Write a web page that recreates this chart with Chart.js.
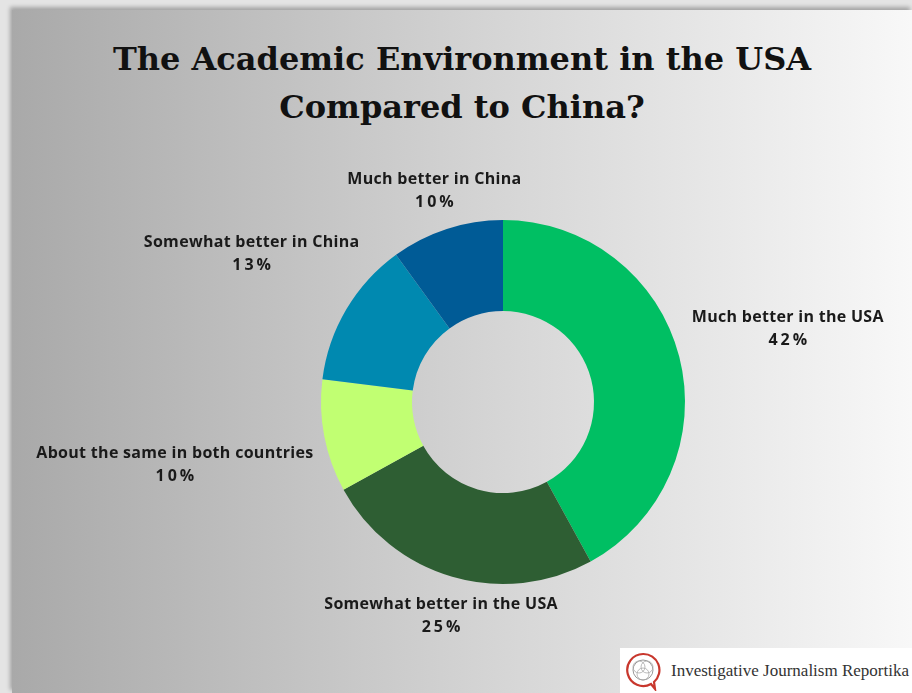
<!DOCTYPE html>
<html>
<head>
<meta charset="utf-8">
<script src="https://cdn.jsdelivr.net/npm/chart.js@4.4.1/dist/chart.umd.min.js"></script>
<style>
  html, body { margin: 0; padding: 0; }
  body {
    width: 912px; height: 693px; overflow: hidden;
    background: #e4e4e4; position: relative;
  }
  #panel {
    position: absolute; left: 12px; top: 10px; width: 900px; height: 683px;
    background: linear-gradient(to right, #a9a9a9 0%, #d6d6d6 55%, #f8f8f8 100%);
    box-shadow: -2px -3px 4px rgba(0, 0, 0, 0.28);
  }
  #title {
    position: absolute; left: 0; top: 25px; width: 900px; margin: 0;
    text-align: center; font-family: "DejaVu Serif", serif; font-weight: bold;
    font-size: 32px; line-height: 48px; color: #111;
  }
  #chartBox { position: absolute; left: 0; top: 0; width: 900px; height: 683px; }
  #brand {
    position: absolute; left: 608px; top: 638px; width: 292px; height: 45px;
    background: #fff; display: flex; align-items: center;
  }
  #brand svg { margin-left: 4px; }
  #brand span {
    margin-left: 9px; font-family: "Liberation Serif", serif; font-size: 17px;
    color: #333; white-space: nowrap;
  }
</style>
</head>
<body>
<div id="panel">
  <h1 id="title">The Academic Environment in the USA<br>Compared to China?</h1>
  <div id="chartBox"><canvas id="donut"></canvas></div>
  <div id="brand">
    <svg width="38" height="40" viewBox="0 0 38 40">
      <path d="M19 3 A16 16 0 1 0 27 33 L31 38 L30 31 A16 16 0 0 0 19 3 Z" fill="none" stroke="#c8372d" stroke-width="2.2"/>
      <circle cx="19" cy="19" r="10" fill="none" stroke="#999" stroke-width="1"/>
      <circle cx="15" cy="16" r="6" fill="none" stroke="#aaa" stroke-width="0.8"/>
      <circle cx="23" cy="16" r="6" fill="none" stroke="#aaa" stroke-width="0.8"/>
      <circle cx="19" cy="23" r="6" fill="none" stroke="#aaa" stroke-width="0.8"/>
    </svg>
    <span>Investigative Journalism Reportika</span>
  </div>
</div>
<script>
  // 응답 항목과 비율 (%)
  const categories = [
    'Much better in the USA',
    'Somewhat better in the USA',
    'About the same in both countries',
    'Somewhat better in China',
    'Much better in China'
  ];
  const shares = [42, 25, 10, 13, 10];
  const sliceColors = ['#00bf63', '#2e5e33', '#c1ff72', '#0089b0', '#005b96'];

  // 조각 바깥쪽 라벨: 중심각 방향으로 바깥 반지름 + offset 위치에 그림
  const outsideLabels = {
    id: 'outsideLabels',
    afterDatasetsDraw(chart, args, opts) {
      const ctx = chart.ctx;
      const meta = chart.getDatasetMeta(0);
      ctx.save();
      ctx.fillStyle = '#1a1a1a';
      ctx.textAlign = 'center';
      ctx.textBaseline = 'middle';
      meta.data.forEach((arc, i) => {
        const p = arc.getProps(['x', 'y', 'startAngle', 'endAngle', 'outerRadius'], true);
        const mid = (p.startAngle + p.endAngle) / 2;
        const dist = p.outerRadius + opts.offsets[i];
        const cx = p.x + Math.cos(mid) * dist;
        const cy = p.y + Math.sin(mid) * dist;
        ctx.font = 'bold 16px "Open Sans", sans-serif';
        ctx.letterSpacing = '0.3px';
        ctx.fillText(chart.data.labels[i], cx, cy - 11);
        ctx.letterSpacing = '3px';
        ctx.fillText(chart.data.datasets[0].data[i] + '%', cx + 1.5, cy + 12);
      });
      ctx.restore();
    }
  };

  const ctx = document.getElementById('donut').getContext('2d');
  window.academicChart = new Chart(ctx, {
    type: 'doughnut',
    data: {
      labels: categories,
      datasets: [{
        data: shares,
        backgroundColor: sliceColors,
        borderWidth: 0,
        hoverOffset: 0
      }]
    },
    options: {
      responsive: true,
      maintainAspectRatio: false,
      animation: false,
      cutout: '50%',
      layout: {
        padding: { left: 309, right: 227, top: 210, bottom: 109 }
      },
      plugins: {
        legend: { display: false },
        tooltip: { enabled: false },
        outsideLabels: { offsets: [112, 40, 152, 110, 40] }
      }
    },
    plugins: [outsideLabels]
  });
</script>
</body>
</html>
